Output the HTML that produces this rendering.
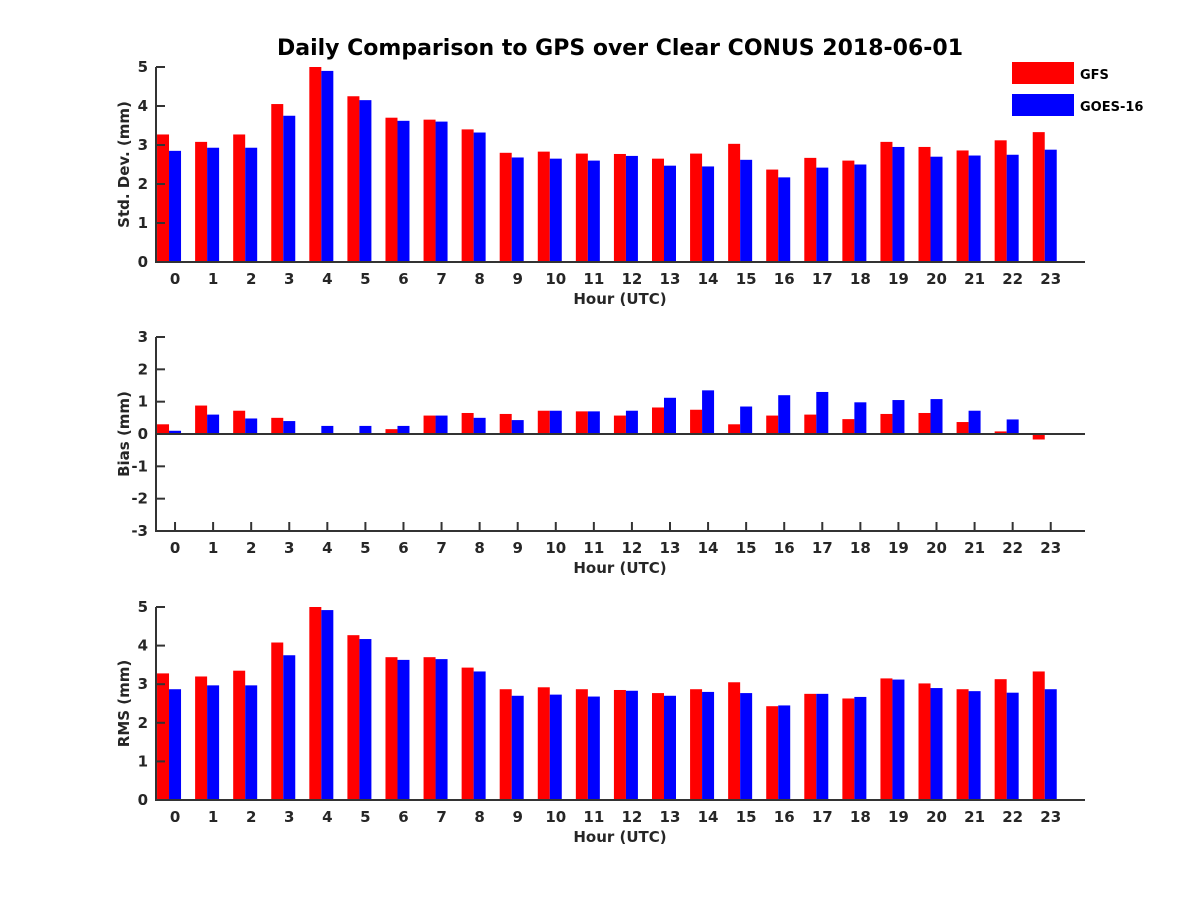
<!DOCTYPE html>
<html><head><meta charset="utf-8"><style>
body{margin:0;background:#fff;font-family:"Liberation Sans","DejaVu Sans",sans-serif}
svg text{font-family:"DejaVu Sans","Liberation Sans",sans-serif;font-weight:bold;fill:#262626}
</style></head><body>
<svg id="c" width="1200" height="900" xmlns="http://www.w3.org/2000/svg">
<text x="620" y="55" text-anchor="middle" font-size="22" style="fill:#000">Daily Comparison to GPS over Clear CONUS 2018-06-01</text>
<g>
<rect x="1012" y="62" width="62" height="22" fill="#f00"/>
<text x="1080" y="79" font-size="13" style="fill:#000">GFS</text>
<rect x="1012" y="94" width="62" height="22" fill="#00f"/>
<text x="1080" y="111" font-size="13" style="fill:#000">GOES-16</text>
</g>
</svg>
<script>
const hours=[0,1,2,3,4,5,6,7,8,9,10,11,12,13,14,15,16,17,18,19,20,21,22,23];
const stdGFS=[3.27,3.08,3.27,4.05,5.0,4.25,3.7,3.65,3.4,2.8,2.83,2.78,2.77,2.65,2.78,3.03,2.37,2.67,2.6,3.08,2.95,2.86,3.12,3.33];
const stdGOES=[2.85,2.93,2.93,3.75,4.9,4.15,3.62,3.6,3.32,2.68,2.65,2.6,2.72,2.47,2.45,2.62,2.17,2.42,2.5,2.95,2.7,2.73,2.75,2.88];
const biasGFS=[0.3,0.88,0.72,0.5,0.02,0,0.15,0.57,0.65,0.62,0.72,0.7,0.57,0.82,0.75,0.3,0.57,0.6,0.46,0.62,0.65,0.37,0.08,-0.17];
const biasGOES=[0.1,0.6,0.48,0.4,0.25,0.25,0.25,0.57,0.5,0.43,0.72,0.7,0.72,1.12,1.35,0.85,1.2,1.3,0.98,1.05,1.08,0.72,0.45,0];
const rmsGFS=[3.28,3.2,3.35,4.08,5.0,4.27,3.7,3.7,3.43,2.87,2.92,2.87,2.85,2.77,2.87,3.05,2.43,2.75,2.63,3.15,3.02,2.87,3.13,3.33];
const rmsGOES=[2.87,2.97,2.97,3.75,4.92,4.17,3.63,3.65,3.33,2.7,2.73,2.68,2.83,2.7,2.8,2.77,2.45,2.75,2.67,3.12,2.9,2.82,2.78,2.87];
const stdTicks=[0,1,2,3,4,5];
const biasTicks=[-3,-2,-1,0,1,2,3];
const rmsTicks=[0,1,2,3,4,5];
const NS="http://www.w3.org/2000/svg";
const svg=document.getElementById('c');
function mk(t,a){const e=document.createElementNS(NS,t);for(const k in a)e.setAttribute(k,a[k]);return e;}
const X0=156,X1=1085,xmin=-0.5,xmax=23.9;
const xs=h=>X0+(h-xmin)/(xmax-xmin)*(X1-X0);
const bw=12;
function panel(name,top,bot,ymin,ymax,ticks,ylab,a,b){
  const g=mk('g',{});
  
  
  svg.appendChild(g);
  const ys=v=>bot-(v-ymin)/(ymax-ymin)*(bot-top);
  const base=ys(Math.max(ymin,0));
  hours.forEach(h=>{
    g.appendChild(mk('path',{d:`M${xs(h)} ${bot}V${bot-9}`,stroke:'#333','stroke-width':2}));
    const tx=mk('text',{x:xs(h),y:bot+22,'text-anchor':'middle','font-size':15});
    tx.textContent=h;
    
    
    g.appendChild(tx);
  });
  hours.forEach((h,i)=>{
    [[a[i],'#f00',-18,'gfs'],[b[i],'#00f',-6,'goes']].forEach(([v,c,off,s])=>{
      const y1=ys(v);
      const r=mk('rect',{x:xs(h)+off,y:Math.min(y1,base),width:bw,height:Math.abs(base-y1),fill:c});
      
      
      g.appendChild(r);
    });
  });
  const ax=mk('path',{d:`M${X0} ${top}V${bot}H${X1}`,stroke:'#333','stroke-width':2,fill:'none'});
  
  
  g.appendChild(ax);
  const xl=mk('path',{d:`M${X0} ${base}H${X1}`,stroke:'#333','stroke-width':2,fill:'none'});
  
  
  g.appendChild(xl);
  ticks.forEach(t=>{
    const y=ys(t);
    g.appendChild(mk('path',{d:`M${X0} ${y}H${X0+9}`,stroke:'#333','stroke-width':2}));
    const tx=mk('text',{x:X0-8,y:y+5,'text-anchor':'end','font-size':15});
    tx.textContent=t;
    
    
    g.appendChild(tx);
  });
  const xt=mk('text',{x:620,y:bot+42,'text-anchor':'middle','font-size':15});
  xt.textContent='Hour (UTC)';
  
  
  g.appendChild(xt);
  const cy=(top+bot)/2;
  const yt=mk('text',{x:0,y:0,'text-anchor':'middle','font-size':15,transform:`translate(129 ${cy}) rotate(-90)`});
  yt.textContent=ylab;
  
  
  g.appendChild(yt);
}
panel('std',67,262,0,5,stdTicks,'Std. Dev. (mm)',stdGFS,stdGOES);
panel('bias',337,531,-3,3,biasTicks,'Bias (mm)',biasGFS,biasGOES);
panel('rms',607,800,0,5,rmsTicks,'RMS (mm)',rmsGFS,rmsGOES);
</script>
</body></html>
